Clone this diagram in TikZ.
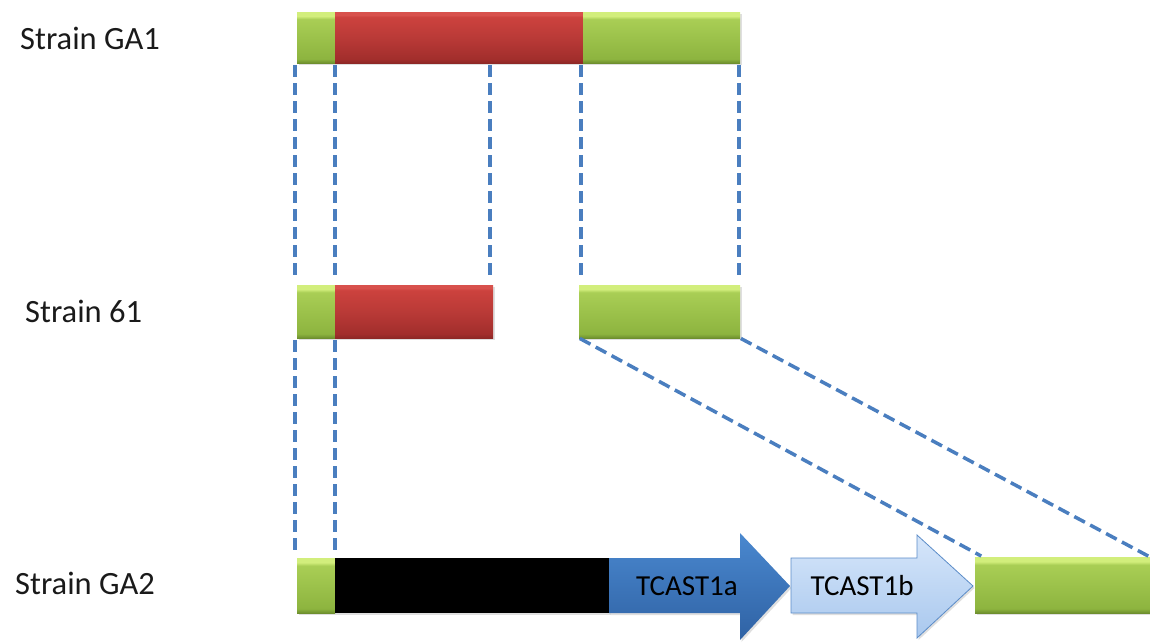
\documentclass[tikz,border=0pt]{standalone}
\usepackage{fontspec}
\setmainfont{Carlito}
\usetikzlibrary{shadows,calc}
\definecolor{gdark}{HTML}{6E8F2E}
\definecolor{gbot}{HTML}{8DB43F}
\definecolor{gmid}{HTML}{9CC24B}
\definecolor{gup}{HTML}{A9CE55}
\definecolor{glight}{HTML}{D2EE7C}
\definecolor{rdark}{HTML}{8E2826}
\definecolor{rbot}{HTML}{A22E2C}
\definecolor{rmid}{HTML}{BA3A37}
\definecolor{rup}{HTML}{CC423E}
\definecolor{rlight}{HTML}{D8514C}
\definecolor{dashblue}{HTML}{4A7EBF}
\definecolor{atop}{HTML}{4A88CF}
\definecolor{abot}{HTML}{2F62A4}
\definecolor{btop}{HTML}{D6E6FA}
\definecolor{bbot}{HTML}{A9C8EE}
\definecolor{bedge}{HTML}{5B8CC8}
\definecolor{labelc}{HTML}{1A1A1A}
\pgfdeclareverticalshading{greenbevel}{100bp}{color(0bp)=(gdark); color(25bp)=(gdark); color(29bp)=(gbot); color(50bp)=(gmid); color(68bp)=(gup); color(71bp)=(glight); color(100bp)=(glight)}
\pgfdeclareverticalshading{redbevel}{100bp}{color(0bp)=(rdark); color(25bp)=(rdark); color(29bp)=(rbot); color(50bp)=(rmid); color(70bp)=(rup); color(72bp)=(rlight); color(100bp)=(rlight)}
\tikzset{
  bar/.style={rectangle, inner sep=0pt, outer sep=0pt, anchor=north west,
    drop shadow={opacity=0.25, shadow xshift=1.5pt, shadow yshift=-2pt}},
  greenbar/.style={bar, shading=greenbevel},
  redbar/.style={bar, shading=redbevel},
  blackbar/.style={bar, fill=black},
  dashline/.style={dashblue, line width=3.5pt, dash pattern=on 12pt off 6pt},
  strainlabel/.style={anchor=west, text=labelc, inner sep=0pt, font=\fontsize{32.5}{32.5}\selectfont},
  arrowlabel/.style={text=black, inner sep=0pt, font=\fontsize{29}{29}\selectfont},
}
\begin{document}
\begin{tikzpicture}[x=1pt, y=-1pt]
\useasboundingbox (0,0) rectangle (1150,643);

% labels
\node[strainlabel] (lga1) at (20,38) {Strain GA1};
\node[strainlabel] (l61) at (25,311) {Strain 61};
\node[strainlabel] (lga2) at (15,583) {Strain GA2};

% Strain GA1
\node[greenbar, minimum width=38pt, minimum height=51pt] (ga1g1) at (297,12) {};
\node[redbar, minimum width=248pt, minimum height=51pt] (ga1r) at (335,12) {};
\node[greenbar, minimum width=157pt, minimum height=51pt] (ga1g2) at (583,12) {};

% Strain 61
\node[greenbar, minimum width=38pt, minimum height=53pt] (s61g1) at (297,285) {};
\node[redbar, minimum width=158pt, minimum height=53pt] (s61r) at (335,285) {};
\node[greenbar, minimum width=161pt, minimum height=53pt] (s61g2) at (579,285) {};

% Strain GA2
\node[greenbar, minimum width=38pt, minimum height=55pt] (ga2g1) at (297,558) {};
\node[blackbar, minimum width=274pt, minimum height=55pt] (ga2k) at (335,558) {};
\node[greenbar, minimum width=175pt, minimum height=56pt] (ga2g2) at (975,557) {};

% arrows
\shade[top color=atop, bottom color=abot, drop shadow={opacity=0.25, shadow xshift=1.5pt, shadow yshift=-2pt}]
  (609,558) -- (740,558) -- (740,533) -- (790,586) -- (740,640) -- (740,613) -- (609,613) -- cycle;
\shade[top color=btop, bottom color=bbot, draw=bedge, line width=0.8pt, drop shadow={opacity=0.25, shadow xshift=1.5pt, shadow yshift=-2pt}]
  (791,558) -- (917,558) -- (917,535) -- (973,586) -- (917,638) -- (917,613) -- (791,613) -- cycle;
\node[arrowlabel] (ta) at (687,586) {TCAST1a};
\node[arrowlabel] (tb) at (862,586) {TCAST1b};

% dashed connectors GA1 -> 61
\draw[dashline, shorten <=2pt, shorten >=5pt] ([xshift=-2pt]ga1g1.south west) -- ([xshift=-2pt]s61g1.north west);
\draw[dashline, shorten <=2pt, shorten >=5pt] (ga1r.south west) -- (s61r.north west);
\draw[dashline, shorten <=2pt, shorten >=5pt] ([xshift=-3pt]s61r.north east |- ga1r.south) -- ([xshift=-3pt]s61r.north east);
\draw[dashline, shorten <=2pt, shorten >=5pt] ([xshift=-2pt]ga1g2.south west) -- ([xshift=2pt]s61g2.north west);
\draw[dashline, shorten <=2pt, shorten >=5pt] ([xshift=-1pt]ga1g2.south east) -- ([xshift=-1pt]s61g2.north east);

% dashed connectors 61 -> GA2
\draw[dashline, shorten <=2pt, shorten >=3pt] ([xshift=-2pt]s61g1.south west) -- ([xshift=-2pt]ga2g1.north west);
\draw[dashline, shorten <=2pt, shorten >=3pt] (s61r.south west) -- (ga2k.north west);
\draw[dashline, shorten <=1pt, shorten >=2pt] (s61g2.south west) -- ([xshift=8pt]ga2g2.north west);
\draw[dashline, shorten <=1pt, shorten >=2pt] (s61g2.south east) -- (ga2g2.north east);
\end{tikzpicture}
\end{document}
